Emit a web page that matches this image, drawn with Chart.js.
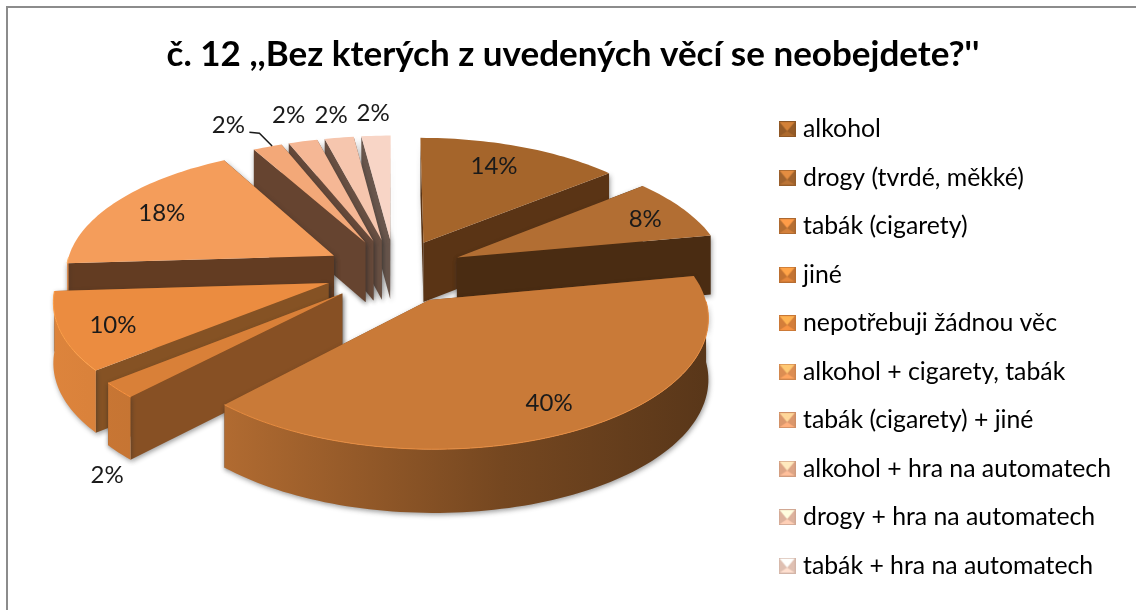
<!DOCTYPE html>
<html>
<head>
<meta charset="utf-8">
<title>č. 12</title>
<script src="https://cdn.jsdelivr.net/npm/chart.js@4"></script>
<style>
  html, body { margin: 0; padding: 0; background: #fff; overflow: hidden; }
  canvas { display: block; filter: blur(0.4px); }
</style>
</head>
<body>
<canvas id="chart" width="1136" height="610"></canvas>
<script>
// Data
const titleText = "č. 12 ,,Bez kterých z uvedených věcí se neobejdete?''";
const categories = [
  "alkohol",
  "drogy (tvrdé, měkké)",
  "tabák (cigarety)",
  "jiné",
  "nepotřebuji žádnou věc",
  "alkohol + cigarety, tabák",
  "tabák (cigarety) + jiné",
  "alkohol + hra na automatech",
  "drogy + hra na automatech",
  "tabák + hra na automatech",
];
const shares = [14, 8, 40, 2, 10, 18, 2, 2, 2, 2];

// Colors
const topColors = ["#A5652B", "#B26E33", "#C97A38", "#D98038", "#EB8C40", "#F49D5B", "#F3A878", "#F5B795", "#F6C6AE", "#F8D5C6"];
const wallColors = ["#5A3415", "#4A2C12", "#7A471D", "#875024", "#855224", "#633C22", "#664430", "#66493A", "#695043", "#6A574D"];

// Look of the tilted pie
const view = { shiftX: 2, shiftY: -80.5, squash: 0.46, perspective: 0.12, depth: 60 };
const explode = 70;
const labelRadius = [0.7, 0.8, 0.62, 1.1, 0.75, 0.72, 1.22, 1.18, 1.16, 1.14];
const labelNudge = [[0, -7], [6, 1], [29, 27], [13, 75], [-17, 6], [-14, -2], [-20, -3], [-3, -10], [-2, -8], [-1, -10]];

function shadeColor(hex, m) {
  const n = parseInt(hex.slice(1), 16);
  const c = [(n >> 16) & 255, (n >> 8) & 255, n & 255].map((v) => Math.min(255, Math.round(v * m)));
  return `rgb(${c[0]},${c[1]},${c[2]})`;
}

// Bevelled legend marker
function makeMarker(color) {
  const c = document.createElement("canvas");
  c.width = 17;
  c.height = 16;
  const g = c.getContext("2d");
  const tri = (pts, fill) => {
    g.fillStyle = fill;
    g.beginPath();
    pts.forEach((p, i) => (i ? g.lineTo(p[0], p[1]) : g.moveTo(p[0], p[1])));
    g.closePath();
    g.fill();
  };
  g.fillStyle = shadeColor(color, 0.9);
  g.fillRect(0, 0, 17, 16);
  tri([[1, 1], [16, 1], [8.5, 10]], shadeColor(color, 1.28));
  tri([[1, 15], [16, 15], [8.5, 10]], shadeColor(color, 1.05));
  g.strokeStyle = shadeColor(color, 0.85);
  g.strokeRect(0.5, 0.5, 16, 15);
  return c;
}

// Draws the arcs from the library as a tilted 3D pie
const pie3d = {
  id: "pie3d",
  beforeDraw(chart) {
    const ctx = chart.ctx;
    ctx.textRendering = "optimizeSpeed";
    // Chart frame
    ctx.save();
    ctx.strokeStyle = "#8C8C8C";
    ctx.lineWidth = 2;
    ctx.strokeRect(7, 7, 1140, 640);
    ctx.restore();
  },
  beforeDatasetsDraw(chart) {
    const ctx = chart.ctx;
    const arcs = chart.getDatasetMeta(0).data;
    const R = arcs[0].outerRadius;
    const cx = arcs[0].x + view.shiftX;
    const cy = arcs[0].y + view.shiftY;

    const project = (x, y, z) => {
      const v = y / R;
      const p = 1 / (1 - view.perspective * v);
      return [cx + x * p, cy + y * view.squash * p + z * (1 + 0.05 * v)];
    };
    const trace = (pts) => {
      ctx.beginPath();
      pts.forEach((p, i) => (i ? ctx.lineTo(p[0], p[1]) : ctx.moveTo(p[0], p[1])));
      ctx.closePath();
    };

    const slices = arcs.map((arc, i) => {
      const mid = (arc.startAngle + arc.endAngle) / 2;
      const off = arc.options.offset;
      const ox = Math.cos(mid) * off;
      const oy = Math.sin(mid) * off;
      const steps = Math.max(4, Math.ceil((arc.endAngle - arc.startAngle) * 40));
      const rim = [];
      const front = [];
      for (let s = 0; s <= steps; s++) {
        const a = arc.startAngle + ((arc.endAngle - arc.startAngle) * s) / steps;
        const pt = [ox + Math.cos(a) * R, oy + Math.sin(a) * R];
        rim.push(pt);
        if (Math.sin(a) > 0) front.push(pt);
      }
      return { i, mid, ox, oy, rim, front, order: Math.sin(mid) };
    });

    // back to front
    slices.slice().sort((a, b) => a.order - b.order).forEach((s) => {
      const top = (p) => project(p[0], p[1], 0);
      const low = (p) => project(p[0], p[1], view.depth);
      const apex = [s.ox, s.oy];
      const first = s.rim[0];
      const last = s.rim[s.rim.length - 1];
      const inside = top(s.rim[Math.floor(s.rim.length / 2)]);

      // true when the slice lies above this edge, so its wall faces us
      const facesFront = (edge) => {
        const a = top(apex);
        const b = top(edge);
        const t = (inside[0] - a[0]) / (b[0] - a[0] || 1e-6);
        return a[1] + (b[1] - a[1]) * t > inside[1];
      };

      ctx.save();
      ctx.shadowColor = "rgba(40,40,40,0.45)";
      ctx.shadowBlur = 5;
      ctx.shadowOffsetX = 1;
      ctx.shadowOffsetY = 2;

      // radial walls, the one facing away first
      [first, last]
        .sort((a, b) => facesFront(a) - facesFront(b))
        .forEach((edge) => {
          trace([top(apex), top(edge), low(edge), low(apex)]);
          ctx.fillStyle = wallColors[s.i];
          ctx.fill();
        });

      // outer wall, lit from the left
      if (s.front.length > 1) {
        const grad = ctx.createLinearGradient(50, 0, 715, 0);
        grad.addColorStop(0, shadeColor(topColors[s.i], 0.94));
        grad.addColorStop(0.26, shadeColor(topColors[s.i], 0.88));
        grad.addColorStop(0.68, shadeColor(topColors[s.i], 0.58));
        grad.addColorStop(1, shadeColor(topColors[s.i], 0.44));
        trace(s.front.map(top).concat(s.front.slice().reverse().map(low)));
        ctx.fillStyle = grad;
        ctx.fill();
      }
      ctx.restore();

      // top face
      trace([top(apex)].concat(s.rim.map(top)));
      ctx.fillStyle = topColors[s.i];
      ctx.fill();

      // light rim on the front edge
      if (s.front.length > 1) {
        ctx.beginPath();
        s.front.map(top).forEach((p, n) => (n ? ctx.lineTo(p[0], p[1]) : ctx.moveTo(p[0], p[1])));
        ctx.strokeStyle = shadeColor(topColors[s.i], 1.15);
        ctx.lineWidth = 1;
        ctx.stroke();
      }
    });

    // Value labels
    ctx.save();
    ctx.font = "24px Lato";
    ctx.fillStyle = "#1a1a1a";
    ctx.textAlign = "center";
    ctx.textBaseline = "middle";
    slices.forEach((s) => {
      const r = labelRadius[s.i] * R;
      const p = project(s.ox + Math.cos(s.mid) * r, s.oy + Math.sin(s.mid) * r, 0);
      const x = p[0] + labelNudge[s.i][0];
      const y = p[1] + labelNudge[s.i][1];
      ctx.fillText(shares[s.i] + "%", x, y);
      if (s.i === 6) {
        // leader line of the first small slice
        const tip = project(s.rim[4][0], s.rim[4][1], 0);
        ctx.beginPath();
        ctx.moveTo(x + 21, y + 7);
        ctx.lineTo(x + 31, y + 8);
        ctx.lineTo(tip[0], tip[1]);
        ctx.strokeStyle = "#1a1a1a";
        ctx.lineWidth = 1.5;
        ctx.stroke();
      }
    });
    ctx.restore();
    return false;
  },
};

// Build the chart
new Chart(document.getElementById("chart"), {
  type: "pie",
  data: {
    labels: categories,
    datasets: [
      {
        data: shares,
        backgroundColor: topColors,
        offset: explode,
        borderWidth: 0,
      },
    ],
  },
  options: {
    responsive: false,
    animation: false,
    radius: 269,
    layout: { padding: { left: 25, right: 15, bottom: 0, top: 8 } },
    plugins: {
      title: {
        display: true,
        text: titleText,
        color: "#000",
        font: { family: "Lato", size: 35, weight: "bold" },
        padding: { top: 26, bottom: 17 },
      },
      legend: {
        position: "right",
        align: "start",
        fullSize: false,
        labels: {
          usePointStyle: true,
          boxWidth: 7,
          boxHeight: 16,
          color: "#262626",
          font: { family: "Lato", size: 24.8 },
          padding: 23.7,
          generateLabels: () =>
            categories.map((name, i) => ({
              text: name,
              fillStyle: topColors[i],
              pointStyle: makeMarker(topColors[i]),
              hidden: false,
              index: i,
            })),
        },
      },
      tooltip: { enabled: false },
    },
  },
  plugins: [pie3d],
});
</script>
</body>
</html>
